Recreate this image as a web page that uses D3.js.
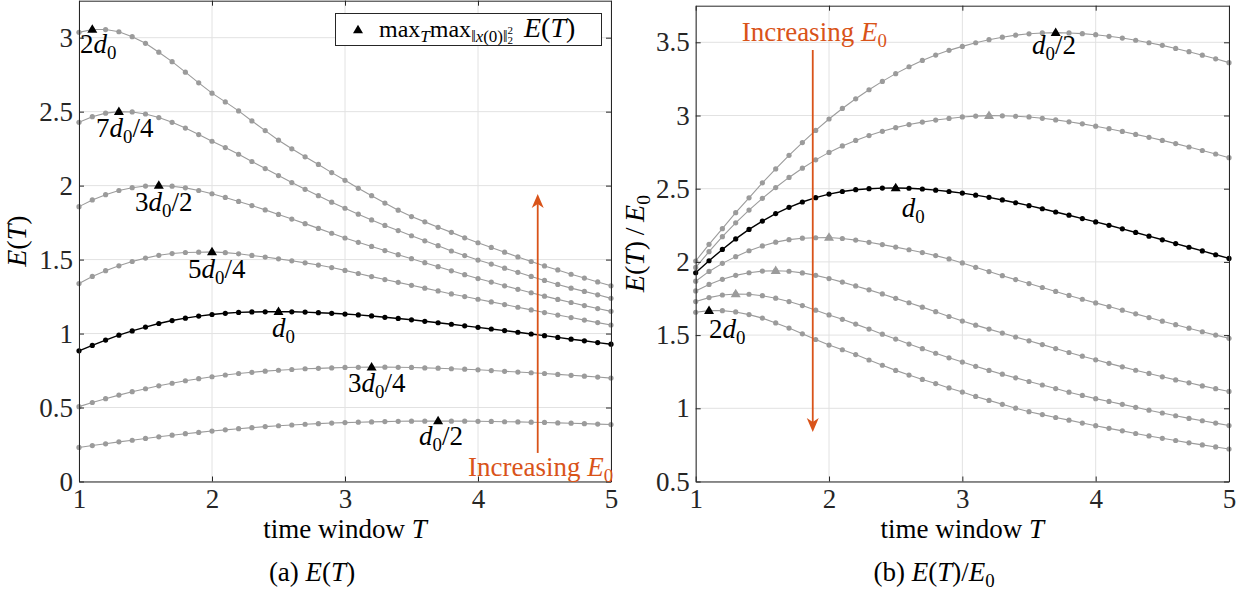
<!DOCTYPE html>
<html>
<head>
<meta charset="utf-8">
<script src="https://cdn.jsdelivr.net/npm/d3@7"></script>
<style>
  body { margin: 0; background: #fff; }
  svg { display: block; }
</style>
</head>
<body>
<svg id="fig" width="1250" height="592" font-family="Liberation Serif"></svg>
<script>
// ---- data --------------------------------------------------------------
const timeWindow = [1.0, 1.1, 1.2, 1.3, 1.4, 1.5, 1.6, 1.7, 1.8, 1.9, 2.0, 2.1, 2.2, 2.3, 2.4, 2.5, 2.6, 2.7, 2.8, 2.9, 3.0,
                    3.1, 3.2, 3.3, 3.4, 3.5, 3.6, 3.7, 3.8, 3.9, 4.0, 4.1, 4.2, 4.3, 4.4, 4.5, 4.6, 4.7, 4.8, 4.9, 5.0];
const xTicks = [1, 2, 3, 4, 5];
const yTicksEnergy = [0, 0.5, 1, 1.5, 2, 2.5, 3];
const yTicksRatio = [0.5, 1, 1.5, 2, 2.5, 3, 3.5];

// E(T) for each initial-state scale d (d0/2 ... 2d0)
const energyHalf = [0.230, 0.243, 0.255, 0.268, 0.279, 0.291, 0.302, 0.313, 0.323, 0.332, 0.341, 0.349, 0.357, 0.364, 0.371, 0.377, 0.382, 0.387, 0.391, 0.395, 0.398,
                    0.401, 0.403, 0.405, 0.407, 0.408, 0.408, 0.409, 0.408, 0.408, 0.407, 0.406, 0.404, 0.403, 0.401, 0.399, 0.396, 0.394, 0.391, 0.388, 0.385];
const energyThreeQuarter = [0.506, 0.534, 0.560, 0.584, 0.607, 0.627, 0.647, 0.664, 0.681, 0.695, 0.708, 0.720, 0.730, 0.738, 0.746, 0.752, 0.757, 0.762, 0.765, 0.768, 0.771,
                    0.772, 0.773, 0.773, 0.772, 0.771, 0.768, 0.766, 0.762, 0.759, 0.755, 0.750, 0.745, 0.740, 0.735, 0.730, 0.724, 0.718, 0.712, 0.706, 0.699];
const energyNominal = [0.883, 0.920, 0.956, 0.989, 1.018, 1.044, 1.068, 1.088, 1.104, 1.118, 1.129, 1.137, 1.143, 1.146, 1.147, 1.148, 1.147, 1.145, 1.141, 1.137, 1.132,
                    1.126, 1.119, 1.110, 1.102, 1.093, 1.083, 1.073, 1.063, 1.052, 1.042, 1.031, 1.020, 1.009, 0.997, 0.986, 0.974, 0.962, 0.951, 0.939, 0.928];
const energyFiveQuarter = [1.338, 1.386, 1.425, 1.458, 1.487, 1.510, 1.529, 1.541, 1.548, 1.550, 1.552, 1.547, 1.539, 1.528, 1.517, 1.505, 1.492, 1.478, 1.463, 1.446, 1.427,
                    1.406, 1.385, 1.365, 1.346, 1.326, 1.307, 1.288, 1.268, 1.250, 1.232, 1.214, 1.196, 1.178, 1.160, 1.142, 1.125, 1.108, 1.091, 1.074, 1.058];
const energyThreeHalf = [1.858, 1.903, 1.939, 1.967, 1.986, 1.997, 2.000, 1.996, 1.985, 1.967, 1.945, 1.920, 1.893, 1.865, 1.836, 1.805, 1.774, 1.743, 1.711, 1.678, 1.646,
                    1.617, 1.589, 1.561, 1.533, 1.506, 1.479, 1.452, 1.424, 1.398, 1.372, 1.348, 1.323, 1.299, 1.276, 1.253, 1.231, 1.210, 1.189, 1.169, 1.150];
const energySevenQuarter = [2.428, 2.466, 2.490, 2.500, 2.498, 2.484, 2.460, 2.428, 2.389, 2.345, 2.300, 2.257, 2.212, 2.163, 2.115, 2.068, 2.021, 1.975, 1.932, 1.888, 1.847,
                    1.807, 1.768, 1.731, 1.696, 1.661, 1.627, 1.594, 1.558, 1.527, 1.497, 1.470, 1.442, 1.414, 1.386, 1.359, 1.332, 1.307, 1.285, 1.262, 1.238];
const energyDouble = [3.036, 3.055, 3.055, 3.040, 3.007, 2.962, 2.902, 2.838, 2.767, 2.695, 2.625, 2.566, 2.505, 2.437, 2.372, 2.307, 2.249, 2.195, 2.143, 2.088, 2.036,
                    1.982, 1.932, 1.882, 1.834, 1.791, 1.755, 1.718, 1.684, 1.647, 1.614, 1.582, 1.550, 1.518, 1.487, 1.457, 1.430, 1.401, 1.375, 1.349, 1.323];

// E(T)/E0 for the same scales
const ratioHalf = [2.006, 2.120, 2.227, 2.336, 2.438, 2.540, 2.635, 2.728, 2.815, 2.898, 2.976, 3.048, 3.114, 3.176, 3.233, 3.286, 3.333, 3.376, 3.413, 3.445, 3.472,
                   3.497, 3.518, 3.535, 3.549, 3.558, 3.564, 3.566, 3.564, 3.559, 3.552, 3.541, 3.529, 3.514, 3.497, 3.479, 3.458, 3.436, 3.412, 3.387, 3.361];
const ratioThreeQuarter = [1.962, 2.070, 2.172, 2.267, 2.354, 2.434, 2.508, 2.577, 2.640, 2.697, 2.748, 2.792, 2.830, 2.863, 2.892, 2.917, 2.938, 2.955, 2.969, 2.980, 2.990,
                   2.996, 2.999, 2.998, 2.995, 2.990, 2.981, 2.970, 2.957, 2.943, 2.927, 2.910, 2.891, 2.871, 2.851, 2.830, 2.808, 2.785, 2.761, 2.737, 2.712];
const ratioNominal = [1.926, 2.008, 2.085, 2.157, 2.222, 2.279, 2.330, 2.373, 2.409, 2.439, 2.463, 2.481, 2.493, 2.500, 2.504, 2.505, 2.503, 2.498, 2.490, 2.481, 2.470,
                   2.456, 2.441, 2.423, 2.404, 2.384, 2.363, 2.341, 2.319, 2.296, 2.273, 2.250, 2.226, 2.201, 2.176, 2.151, 2.125, 2.100, 2.075, 2.049, 2.024];
const ratioFiveQuarter = [1.868, 1.935, 1.990, 2.036, 2.076, 2.109, 2.135, 2.152, 2.162, 2.165, 2.167, 2.160, 2.149, 2.134, 2.118, 2.101, 2.083, 2.064, 2.043, 2.020, 1.993,
                   1.963, 1.934, 1.906, 1.879, 1.852, 1.825, 1.798, 1.771, 1.745, 1.720, 1.695, 1.670, 1.645, 1.620, 1.595, 1.571, 1.547, 1.523, 1.500, 1.478];
const ratioThreeHalf = [1.802, 1.846, 1.881, 1.908, 1.926, 1.937, 1.940, 1.936, 1.925, 1.908, 1.886, 1.862, 1.836, 1.809, 1.781, 1.751, 1.721, 1.691, 1.660, 1.627, 1.596,
                   1.568, 1.541, 1.514, 1.487, 1.461, 1.435, 1.408, 1.381, 1.356, 1.331, 1.307, 1.283, 1.260, 1.238, 1.215, 1.194, 1.174, 1.153, 1.134, 1.115];
const ratioSevenQuarter = [1.729, 1.756, 1.774, 1.781, 1.779, 1.769, 1.752, 1.729, 1.702, 1.670, 1.638, 1.608, 1.575, 1.541, 1.506, 1.473, 1.439, 1.407, 1.376, 1.345, 1.316,
                   1.287, 1.259, 1.233, 1.208, 1.183, 1.159, 1.135, 1.110, 1.088, 1.066, 1.047, 1.027, 1.007, 0.987, 0.968, 0.949, 0.931, 0.915, 0.899, 0.882];
const ratioDouble = [1.656, 1.667, 1.667, 1.658, 1.640, 1.616, 1.583, 1.548, 1.509, 1.470, 1.432, 1.400, 1.367, 1.330, 1.294, 1.259, 1.227, 1.197, 1.169, 1.139, 1.111,
                   1.081, 1.054, 1.027, 1.001, 0.977, 0.957, 0.937, 0.919, 0.899, 0.881, 0.863, 0.846, 0.828, 0.811, 0.795, 0.780, 0.764, 0.750, 0.736, 0.722];

// time window where each curve peaks (the triangle markers)
const peakT = [3.7, 3.2, 2.5, 2.0, 1.6, 1.3, 1.1];

// curve tags: d0/2, 3d0/4, d0, 5d0/4, 3d0/2, 7d0/4, 2d0
const curveTags = [
  [{ t: "d", it: 1 }, { t: "0", sub: 1 }, { t: "/2" }],
  [{ t: "3" }, { t: "d", it: 1 }, { t: "0", sub: 1 }, { t: "/4" }],
  [{ t: "d", it: 1 }, { t: "0", sub: 1 }],
  [{ t: "5" }, { t: "d", it: 1 }, { t: "0", sub: 1 }, { t: "/4" }],
  [{ t: "3" }, { t: "d", it: 1 }, { t: "0", sub: 1 }, { t: "/2" }],
  [{ t: "7" }, { t: "d", it: 1 }, { t: "0", sub: 1 }, { t: "/4" }],
  [{ t: "2" }, { t: "d", it: 1 }, { t: "0", sub: 1 }]
];
// tag anchor (left edge, baseline) in data coordinates
const tagEnergyT = [3.556, 3.023, 2.451, 1.820, 1.421, 1.128, 1.008];
const tagEnergyV = [0.247, 0.605, 0.976, 1.375, 1.828, 2.328, 2.895];
const tagRatioT = [3.523, null, 2.545, null, null, null, 1.100];
const tagRatioV = [3.420, null, 2.309, null, null, null, 1.480];

const energySeries = [energyHalf, energyThreeQuarter, energyNominal, energyFiveQuarter, energyThreeHalf, energySevenQuarter, energyDouble];
const ratioSeries = [ratioHalf, ratioThreeQuarter, ratioNominal, ratioFiveQuarter, ratioThreeHalf, ratioSevenQuarter, ratioDouble];

// ---- drawing -----------------------------------------------------------
const SERIF = "Liberation Serif";
const GRAY = "#9b9b9b";
const AXIS = "#262626";
const ORANGE = "#D95319";
const svg = d3.select("#fig");

function richText(parent, segs, size, attrs = {}) {
  const text = parent.append("text").attr("font-family", SERIF).style("font-size", size + "px");
  Object.entries(attrs).forEach(([k, v]) => text.attr(k, v));
  let shift = 0;
  segs.forEach(s => {
    const ts = text.append("tspan").text(s.t);
    let target = 0;
    let fs = size;
    if (s.sub) { target = size * 0.22; fs = size * 0.7; }
    if (s.fs) fs = s.fs;
    if (s.dy !== undefined) target = s.dy;
    if (target !== shift) { ts.attr("dy", target - shift); shift = target; }
    if (s.dx) ts.attr("dx", s.dx);
    ts.style("font-size", fs + "px");
    if (s.it) ts.style("font-style", "italic");
  });
  return text;
}

function triPath(cx, cy) {
  const w = 10, h = 8.5;
  return `M${cx},${cy - h / 2}L${cx + w / 2},${cy + h / 2}L${cx - w / 2},${cy + h / 2}Z`;
}

function drawArrow(g, px, yFrom, yTip) {
  const dir = yTip < yFrom ? 1 : -1; // 1 = pointing up
  const headLen = 14, notch = 10, half = 6;
  g.append("line")
    .attr("x1", px).attr("x2", px)
    .attr("y1", yFrom).attr("y2", yTip + dir * notch)
    .attr("stroke", ORANGE).attr("stroke-width", 1.8);
  g.append("path")
    .attr("d", `M${px},${yTip}L${px + half},${yTip + dir * headLen}L${px},${yTip + dir * notch}L${px - half},${yTip + dir * headLen}Z`)
    .attr("fill", ORANGE);
}

function drawPanel(cfg) {
  const g = svg.append("g");
  const x = d3.scaleLinear().domain([1, 5]).range([cfg.left, cfg.right]);
  const y = d3.scaleLinear().domain(cfg.yDomain).range([cfg.bottom, cfg.top]);

  // grid
  g.append("g").selectAll("line").data(xTicks).join("line")
    .attr("x1", d => x(d)).attr("x2", d => x(d))
    .attr("y1", cfg.top).attr("y2", cfg.bottom)
    .attr("stroke", "#e2e2e2").attr("stroke-width", 1);
  g.append("g").selectAll("line").data(cfg.yTicks).join("line")
    .attr("x1", cfg.left).attr("x2", cfg.right)
    .attr("y1", d => y(d)).attr("y2", d => y(d))
    .attr("stroke", "#e2e2e2").attr("stroke-width", 1);

  // curves: gray ones first, nominal d0 in black on top
  const line = d3.line().x(d => x(d[0])).y(d => y(d[1]));
  [0, 1, 3, 4, 5, 6, 2].forEach(k => {
    const col = k === 2 ? "#000" : GRAY;
    const pts = timeWindow.map((t, i) => [t, cfg.series[k][i]]);
    g.append("path").datum(pts).attr("d", line)
      .attr("fill", "none").attr("stroke", col).attr("stroke-width", k === 2 ? 1.4 : 1.1);
    g.append("g").selectAll("circle").data(pts).join("circle")
      .attr("cx", d => x(d[0])).attr("cy", d => y(d[1]))
      .attr("r", 2.6).attr("fill", col);
  });

  // peak markers
  peakT.forEach((t, k) => {
    const i = timeWindow.indexOf(t);
    g.append("path")
      .attr("d", triPath(x(t), y(cfg.series[k][i]) - 1))
      .attr("fill", cfg.triColor[k]);
  });

  // curve tags
  curveTags.forEach((segs, k) => {
    if (cfg.tagT[k] == null) return;
    richText(g, segs, 27, { x: x(cfg.tagT[k]), y: y(cfg.tagV[k]), fill: "#000" });
  });

  // axes with inward ticks on all four sides
  const styleAxis = a => {
    a.attr("font-family", SERIF).attr("font-size", null);
    a.select(".domain").attr("stroke", AXIS).attr("stroke-width", 1);
    a.selectAll(".tick line").attr("stroke", AXIS);
    a.selectAll(".tick text").attr("fill", AXIS).attr("font-family", SERIF).style("font-size", "27px");
  };
  g.append("g").attr("transform", `translate(0,${cfg.bottom})`)
    .call(d3.axisBottom(x).tickValues(xTicks).tickFormat(d => String(d)).tickSize(-5).tickSizeOuter(0).tickPadding(7))
    .call(styleAxis);
  g.append("g").attr("transform", `translate(0,${cfg.top})`)
    .call(d3.axisTop(x).tickValues(xTicks).tickFormat("").tickSize(-5).tickSizeOuter(0))
    .call(styleAxis);
  g.append("g").attr("transform", `translate(${cfg.left},0)`)
    .call(d3.axisLeft(y).tickValues(cfg.yTicks).tickFormat(d => String(d)).tickSize(-5).tickSizeOuter(0).tickPadding(6))
    .call(styleAxis);
  g.append("g").attr("transform", `translate(${cfg.right},0)`)
    .call(d3.axisRight(y).tickValues(cfg.yTicks).tickFormat("").tickSize(-5).tickSizeOuter(0))
    .call(styleAxis);

  // axis titles and caption
  const cx = (cfg.left + cfg.right) / 2;
  richText(g, [{ t: "time window " }, { t: "T", it: 1 }], 27,
    { x: cx, y: 538, "text-anchor": "middle", fill: "#000" });
  richText(g, cfg.yTitle, 28,
    { transform: `translate(${cfg.yTitleX},${(cfg.top + cfg.bottom) / 2}) rotate(-90)`, "text-anchor": "middle", fill: "#000" });
  richText(g, cfg.caption, 27,
    { x: cfg.captionX, y: 581, "text-anchor": "middle", fill: "#000" });

  // "Increasing E0" annotation
  drawArrow(g, x(cfg.arrowT), y(cfg.arrowFrom), y(cfg.arrowTo));
  richText(g, [{ t: "Increasing " }, { t: "E", it: 1 }, { t: "0", sub: 1 }], 27,
    { x: x(cfg.noteT), y: y(cfg.noteV), fill: ORANGE });

  return { g, x, y };
}

drawPanel({
  left: 79, right: 611, top: 0.7, bottom: 481.5,
  yDomain: [0, 3.25], yTicks: yTicksEnergy,
  series: energySeries,
  triColor: ["#000", "#000", "#000", "#000", "#000", "#000", "#000"],
  tagT: tagEnergyT, tagV: tagEnergyV,
  yTitle: [{ t: "E", it: 1 }, { t: "(" }, { t: "T", it: 1 }, { t: ")" }],
  yTitleX: 26,
  caption: [{ t: "(a) " }, { t: "E", it: 1 }, { t: "(" }, { t: "T", it: 1 }, { t: ")" }],
  captionX: 312,
  arrowT: 4.449, arrowFrom: 0.193, arrowTo: 1.943,
  noteT: 3.925, noteV: 0.037
});

drawPanel({
  left: 695.7, right: 1229, top: 5.7, bottom: 481.5,
  yDomain: [0.5, 3.75], yTicks: yTicksRatio,
  series: ratioSeries,
  triColor: ["#000", GRAY, "#000", GRAY, GRAY, GRAY, "#000"],
  tagT: tagRatioT, tagV: tagRatioV,
  yTitle: [{ t: "E", it: 1 }, { t: "(" }, { t: "T", it: 1 }, { t: ")\u2009/\u2009" }, { t: "E", it: 1 }, { t: "0", sub: 1 }],
  yTitleX: 644,
  caption: [{ t: "(b) " }, { t: "E", it: 1 }, { t: "(" }, { t: "T", it: 1 }, { t: ")/" }, { t: "E", it: 1 }, { t: "0", sub: 1 }],
  captionX: 934,
  arrowT: 1.878, arrowFrom: 3.447, arrowTo: 0.838,
  noteT: 1.345, noteV: 3.509
});

// legend (left panel)
const lg = svg.append("g");
lg.append("rect").attr("x", 335.5).attr("y", 13.5).attr("width", 266).attr("height", 32)
  .attr("fill", "#fff").attr("stroke", AXIS).attr("stroke-width", 1);
lg.append("path").attr("d", triPath(358, 29)).attr("fill", "#000");
richText(lg, [
  { t: "max", fs: 24, dy: 0 },
  { t: "T", it: 1, fs: 17, dy: 5 },
  { t: "max", fs: 24, dy: 0 },
  { t: "\u2016", fs: 16, dy: 5 },
  { t: "x", it: 1, fs: 17, dy: 5 },
  { t: "(0)", fs: 17, dy: 5 },
  { t: "\u2016", fs: 16, dy: 5 },
  { t: "2", fs: 11, dy: -3 },
  { t: "2", fs: 11, dy: 7, dx: -5.5 },
  { t: "E", it: 1, fs: 28, dy: 0, dx: 11 },
  { t: "(", fs: 28, dy: 0 },
  { t: "T", it: 1, fs: 28, dy: 0 },
  { t: ")", fs: 28, dy: 0 }
], 24, { x: 379, y: 37, fill: "#000" });
</script>
</body>
</html>
